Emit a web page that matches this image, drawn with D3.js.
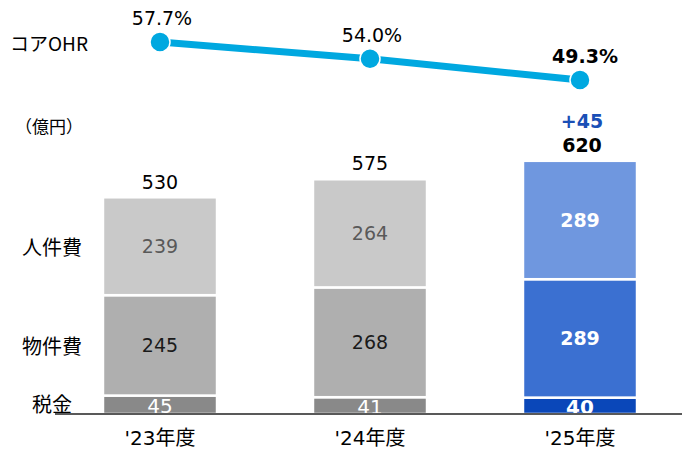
<!DOCTYPE html>
<html>
<head>
<meta charset="utf-8">
<script src="https://cdn.jsdelivr.net/npm/d3@7"></script>
<style>
  html, body { margin: 0; padding: 0; background: #fff; }
  svg { display: block; }
  text { font-family: "DejaVu Sans", "Noto Sans CJK JP", sans-serif; }
  text.jp { font-family: "Noto Sans CJK JP", "Noto Sans", sans-serif; }
</style>
</head>
<body>
<svg id="chart" width="682" height="450"></svg>
<script>
// Fiscal years on the x axis
const years = ["'23年度", "'24年度", "'25年度"];
// Cost components (億円), stacked bottom to top
const tax = [45, 41, 40];
const material = [245, 268, 289];
const personnel = [239, 264, 289];
const totals = [530, 575, 620];
const totalChange = "+45";
// Core OHR (%)
const ohr = [57.7, 54.0, 49.3];
const segmentNames = ["税金", "物件費", "人件費"];

const svg = d3.select("#chart");

const x = d3.scaleBand().domain(years).range([55, 685]).paddingInner(0.457).paddingOuter(0.2285);
const y = d3.scaleLinear().domain([0, 620]).range([414, 160]);
const yOhr = d3.scaleLinear().domain([49.3, 57.7]).range([80, 42]);

const greyFill = ["#898989", "#afafaf", "#c9c9c9"];
const blueFill = ["#0a47b9", "#3b70d1", "#6f97df"];
const greyText = ["#ffffff", "#1a1a1a", "#595959"];

const series = [tax, material, personnel];

// Stacked bars
years.forEach((yr, i) => {
  const last = i === years.length - 1;
  let base = 0;
  series.forEach((s, k) => {
    const v = s[i];
    const y0 = y(base), y1 = y(base + v);
    svg.append("rect")
      .attr("x", x(yr)).attr("width", x.bandwidth())
      .attr("y", y1).attr("height", y0 - y1)
      .attr("fill", last ? blueFill[k] : greyFill[k])
      .attr("stroke", "#ffffff").attr("stroke-width", 2.5);
    svg.append("text")
      .attr("x", x(yr) + x.bandwidth() / 2)
      .attr("y", k === 0 ? (y0 + y1) / 2 + 1.5 : (y0 + y1) / 2)
      .attr("text-anchor", "middle").attr("dominant-baseline", "central")
      .attr("font-size", k === 0 ? 20 : 19)
      .attr("font-weight", last ? "bold" : "normal")
      .attr("fill", last ? "#ffffff" : greyText[k])
      .text(v);
    base += v;
  });
  // Total above the bar
  svg.append("text")
    .attr("x", x(yr) + x.bandwidth() / 2 + (last ? 2 : 0))
    .attr("y", y(totals[i]) - 15)
    .attr("text-anchor", "middle").attr("dominant-baseline", "central")
    .attr("font-size", 19).attr("font-weight", last ? "bold" : "normal")
    .attr("fill", "#000").text(totals[i]);
});

// Year-on-year change above the latest total
svg.append("text")
  .attr("x", x(years[2]) + x.bandwidth() / 2 + 2)
  .attr("y", y(totals[2]) - 39)
  .attr("text-anchor", "middle").attr("dominant-baseline", "central")
  .attr("font-size", 19).attr("font-weight", "bold")
  .attr("fill", "#1a4fb6").text(totalChange);

// Baseline
svg.append("line")
  .attr("x1", 55).attr("x2", 682).attr("y1", 414).attr("y2", 414)
  .attr("stroke", "#222").attr("stroke-width", 1.5);

// Category labels
years.forEach(yr => {
  svg.append("text")
    .attr("x", x(yr) + x.bandwidth() / 2)
    .attr("y", 438)
    .attr("text-anchor", "middle").attr("dominant-baseline", "central")
    .attr("font-size", 20).attr("fill", "#000").text(yr);
});

// Segment names on the left
const segY = [403, 345, 246];
segmentNames.forEach((n, k) => {
  svg.append("text")
    .attr("class", "jp")
    .attr("x", 52).attr("y", segY[k])
    .attr("text-anchor", "middle").attr("dominant-baseline", "central")
    .attr("font-size", 20).attr("fill", "#000").text(n);
});

// Unit label
svg.append("text")
  .attr("class", "jp")
  .attr("x", 15).attr("y", 125)
  .attr("dominant-baseline", "central")
  .attr("font-size", 17).attr("fill", "#000").text("（億円）");

// OHR line
const cx = d => x(d) + x.bandwidth() / 2;
const pts = years.map((yr, i) => [cx(yr), yOhr(ohr[i])]);
svg.append("path")
  .attr("d", d3.line()(pts))
  .attr("fill", "none").attr("stroke", "#00a8e0").attr("stroke-width", 7);
svg.selectAll("circle.ohr").data(pts).join("circle")
  .attr("class", "ohr")
  .attr("cx", d => d[0]).attr("cy", d => d[1]).attr("r", 10)
  .attr("fill", "#00a8e0").attr("stroke", "#ffffff").attr("stroke-width", 1.5);

ohr.forEach((v, i) => {
  const last = i === ohr.length - 1;
  svg.append("text")
    .attr("x", pts[i][0] + (last ? 5 : 2))
    .attr("y", pts[i][1] - 24)
    .attr("text-anchor", "middle").attr("dominant-baseline", "central")
    .attr("font-size", 19).attr("font-weight", last ? "bold" : "normal")
    .attr("fill", "#000").text(v.toFixed(1) + "%");
});

svg.append("text")
  .attr("class", "jp")
  .attr("x", 10).attr("y", 42)
  .attr("dominant-baseline", "central")
  .attr("font-size", 19).attr("fill", "#000").text("コアOHR");
</script>
</body>
</html>
